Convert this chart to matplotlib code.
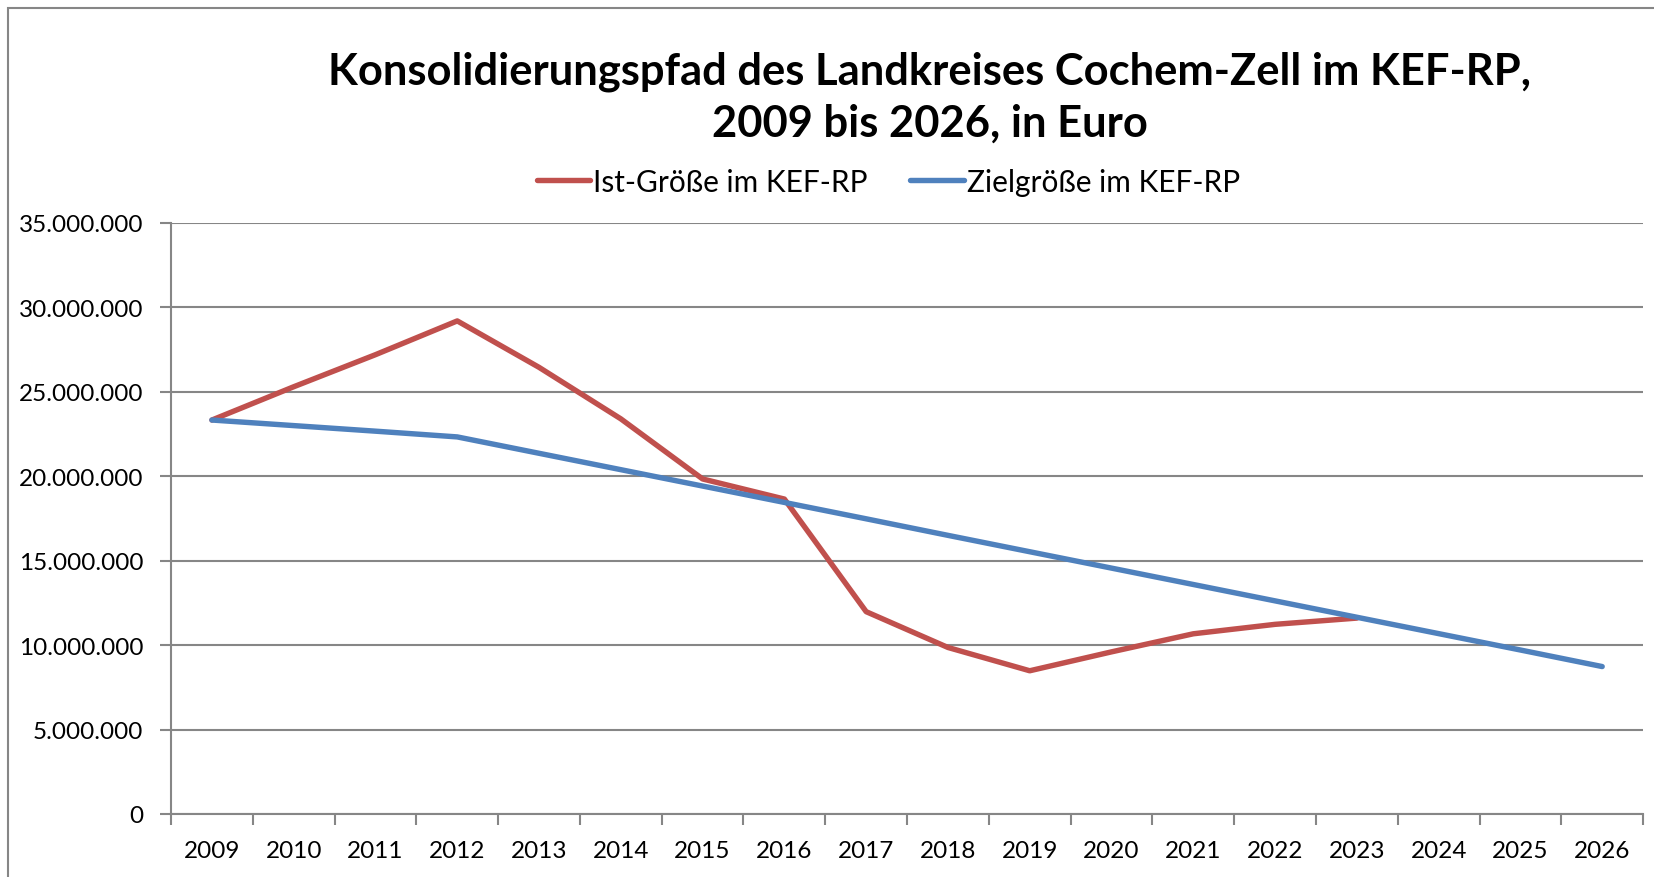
import matplotlib
matplotlib.use("Agg")
import matplotlib.pyplot as plt
from matplotlib.patches import Rectangle
from matplotlib.ticker import FuncFormatter, MultipleLocator

RED, BLUE, GRAY = "#C0504D", "#4F81BD", "#868686"
plt.rcParams["font.family"] = ["Lato", "DejaVu Sans"]

years = list(range(2009, 2027))
ist = [23.33, 25.3, 27.2, 29.2, 26.45, 23.4, 19.84, 18.65, 11.98, 9.86, 8.48, 9.6, 10.67, 11.23, 11.6]
ziel = [23.33, 23.0, 22.67, 22.33, 21.36, 20.39, 19.42, 18.45, 17.48, 16.5, 15.53, 14.56,
        13.59, 12.62, 11.65, 10.68, 9.71, 8.73]
ist = [v * 1e6 for v in ist]
ziel = [v * 1e6 for v in ziel]

fig = plt.figure(figsize=(16.54, 8.78), dpi=100)
ax = fig.add_axes([0.1034, 0.0718, 0.8900, 0.6731])

x = list(range(len(years)))
ax.plot(x[:len(ist)], ist, color=RED, lw=3.9, solid_capstyle="round", label="Ist-Größe im KEF-RP")
ax.plot(x, ziel, color=BLUE, lw=3.9, solid_capstyle="round", label="Zielgröße im KEF-RP")

ax.set_xlim(-0.5, len(years) - 0.5)
ax.set_ylim(0, 35e6)
ax.yaxis.set_major_locator(MultipleLocator(5e6))
ax.yaxis.set_major_formatter(FuncFormatter(lambda v, p: f"{v:,.0f}".replace(",", ".")))
ax.yaxis.grid(True, color=GRAY, lw=1.5)
ax.set_axisbelow(True)

# category axis: ticks between years, labels centred
ax.set_xticks([i - 0.5 for i in range(len(years) + 1)])
ax.set_xticklabels([])
ax.set_xticks(x, minor=True)
ax.set_xticklabels([str(y) for y in years], minor=True)
ax.tick_params(axis="x", which="major", length=8, width=1.5, color=GRAY)
ax.tick_params(axis="x", which="minor", length=0, pad=19, labelsize=17.5)
ax.tick_params(axis="y", length=8, width=1.5, color=GRAY, pad=12, labelsize=17.5)

for s in ("top", "right"):
    ax.spines[s].set_visible(False)
for s in ("left", "bottom"):
    ax.spines[s].set_color(GRAY)
    ax.spines[s].set_linewidth(1.5)

fig.text(0.562, 0.889, "Konsolidierungspfad des Landkreises Cochem-Zell im KEF-RP,\n2009 bis 2026, in Euro",
         ha="center", va="center", fontsize=31.3, fontweight="bold", linespacing=1.35)
ax.legend(loc="center", bbox_to_anchor=(0.537, 0.792), bbox_transform=fig.transFigure, ncol=2,
          frameon=False, fontsize=21.5, handlelength=1.8, handletextpad=0.1, columnspacing=1.4)

fig.add_artist(Rectangle((8 / 1654, -0.1), 1.2, 1.1 - 9 / 878, transform=fig.transFigure,
                         fill=False, edgecolor=GRAY, lw=1.5))

fig.savefig("out.png", dpi=100)
